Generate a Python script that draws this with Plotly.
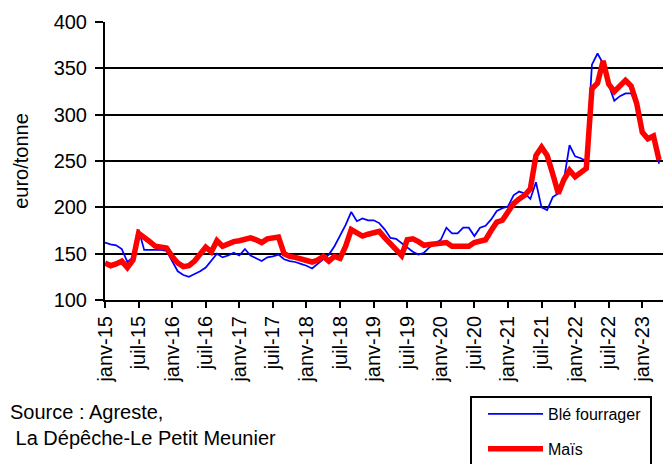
import plotly.graph_objects as go

# monthly prices, janv-15 .. avr-23 (euro/tonne)
ble_fourrager = [
    162, 160, 159, 155, 141, 146, 176, 154, 154, 154,
    154, 153, 142, 131, 127, 125, 128, 131, 135, 143,
    150, 146, 148, 151, 148, 155, 148, 145, 142, 146,
    147, 149, 144, 142, 141, 139, 137, 134, 139, 144,
    149, 158, 169, 181, 195, 185, 188, 186, 186, 183,
    176, 167, 166, 161, 156, 152, 149, 151, 157, 161,
    165, 178, 172, 172, 178, 178, 169, 178, 180, 187,
    196, 199, 201, 213, 217, 215, 209, 227, 200, 197,
    211, 215, 230, 267, 255, 253, 250, 354, 366, 355,
    332, 315, 320, 323, 323, 310, 281, 274, 276, 247,
]
mais = [
    140, 137, 139, 142, 135, 143, 172, 168, 163, 158,
    157, 156, 147, 140, 136, 137, 142, 149, 157, 152,
    164, 158, 161, 163, 164, 166, 167, 165, 162, 166,
    167, 168, 150, 147, 146, 144, 143, 141, 143, 147,
    142, 147, 145, 158, 176, 173, 169, 171, 172, 174,
    167, 160, 155, 148, 165, 166, 163, 159, 160, 161,
    161, 162, 158, 158, 158, 158, 162, 164, 165, 175,
    184, 186, 194, 204, 209, 213, 220, 256, 265, 256,
    236, 215, 230, 240, 233, 237, 242, 328, 334, 358,
    333, 325, 331, 337, 331, 312, 281, 274, 277, 251,
]
tick_labels = [
    "janv-15", "juil-15", "janv-16", "juil-16", "janv-17", "juil-17",
    "janv-18", "juil-18", "janv-19", "juil-19", "janv-20", "juil-20",
    "janv-21", "juil-21", "janv-22", "juil-22", "janv-23",
]
months = list(range(len(mais)))
tick_pos = [6 * i for i in range(len(tick_labels))]

FONT = "Liberation Sans, Arial, sans-serif"
W, H = 665, 464
L, R, T, B = 105, 2, 22, 164
PW, PH = W - L - R, H - T - B


def px(x):
    # pixel column -> paper x
    return (x - L) / PW


def py(y):
    # pixel row -> paper y
    return (H - B - y) / PH


fig = go.Figure()
fig.add_trace(go.Scatter(
    x=months, y=ble_fourrager, mode="lines", name="Blé fourrager",
    line=dict(color="#0000FF", width=1.75), legendgroup="a",
))
fig.add_trace(go.Scatter(
    x=months, y=mais, mode="lines", name="Maïs",
    line=dict(color="#FF0000", width=5.5), legendgroup="b",
))

fig.update_layout(
    width=W, height=H,
    margin=dict(l=L, r=R, t=T, b=B, autoexpand=False),
    paper_bgcolor="white", plot_bgcolor="white",
    font=dict(family=FONT, size=20, color="black"),
    showlegend=True,
    legend=dict(
        x=px(483), y=py(397), xanchor="left", yanchor="top",
        borderwidth=0, bgcolor="rgba(0,0,0,0)",
        font=dict(size=16), itemwidth=55, tracegroupgap=11,
    ),
    # legend frame
    shapes=[dict(
        type="rect", xref="paper", yref="paper",
        x0=px(471), x1=px(651), y0=py(397), y1=py(470),
        line=dict(color="black", width=2), layer="below",
    )],
    annotations=[dict(
        text="Source : Agreste,<br>\u00a0La Dépêche-Le Petit Meunier",
        xref="paper", yref="paper", x=px(8), y=py(425),
        xanchor="left", yanchor="middle", align="left",
        showarrow=False, font=dict(size=20),
    )],
)
fig.update_xaxes(
    range=[0, 99.7], tickmode="array", tickvals=tick_pos, ticktext=tick_labels,
    tickangle=-90, ticks="outside", ticklen=6, tickwidth=2, tickcolor="black",
    showline=True, linecolor="black", linewidth=2, showgrid=False,
    zeroline=False, tickfont=dict(size=20),
)
fig.update_yaxes(
    range=[100, 400], dtick=50, tick0=100,
    ticks="outside", ticklen=8, tickwidth=2, tickcolor="black",
    showline=True, linecolor="black", linewidth=2,
    showgrid=True, gridcolor="black", gridwidth=2, zeroline=False,
    tickfont=dict(size=20), ticklabelstandoff=4,
    title=dict(text="euro/tonne", font=dict(size=20), standoff=20),
)

# the page's default body margin would shift the figure by 8px
fig.write_html(
    "out.html",
    config={"displayModeBar": False},
    post_script="document.body.style.margin='0';",
)
